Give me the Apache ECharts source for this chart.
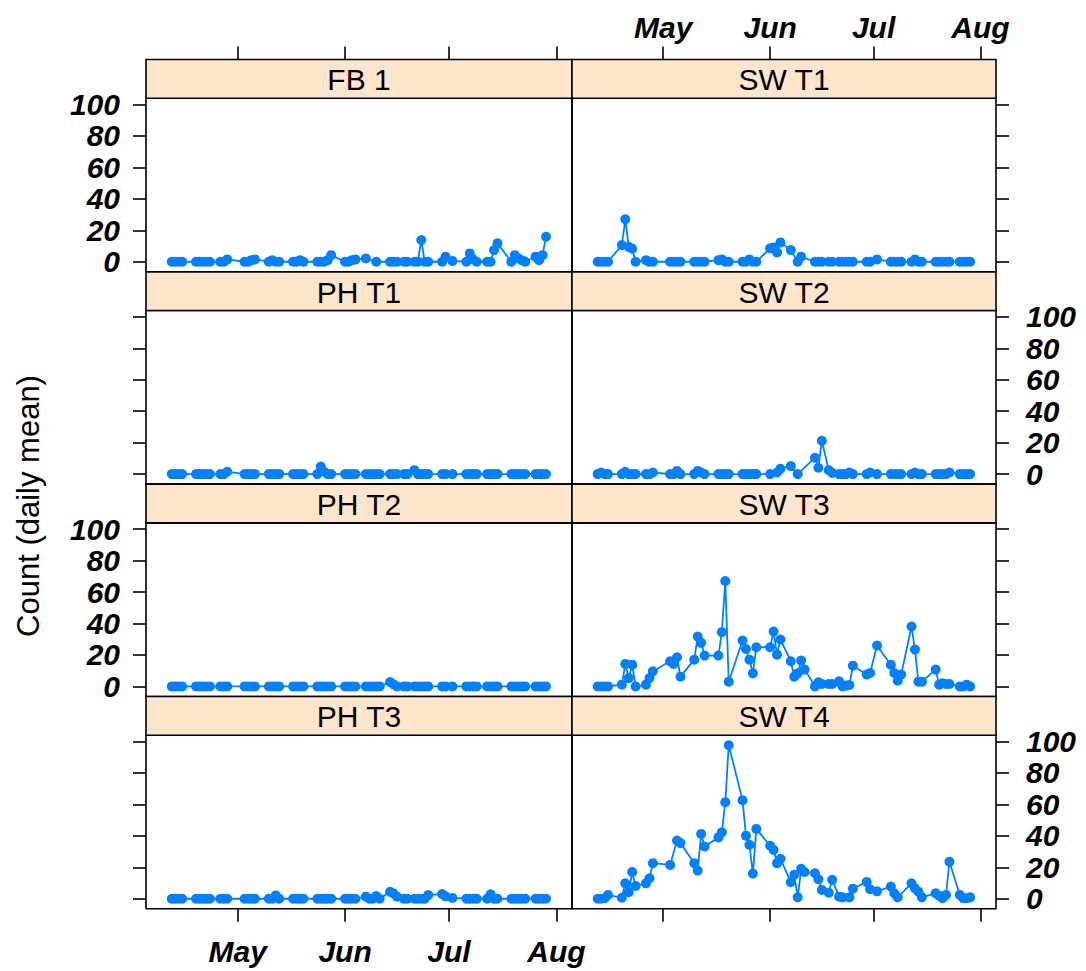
<!DOCTYPE html>
<html>
<head>
<meta charset="utf-8">
<script src="https://cdn.jsdelivr.net/npm/echarts@6/dist/echarts.min.js"></script>
<style>
  html, body { margin: 0; padding: 0; background: #ffffff; }
  #chart { width: 1086px; height: 971px; }
</style>
</head>
<body>
<div id="chart"></div>
<script>
// Daily mean counts per sampling site, one value per sampling date (null = no sample)
const YEAR = 2010;
const sampleDates = [
  '04-12','04-13','04-14','04-15',
  '04-19','04-20','04-21','04-22','04-23',
  '04-26','04-27','04-28',
  '05-03','05-04','05-05','05-06',
  '05-10','05-11','05-12','05-13',
  '05-17','05-18','05-19','05-20',
  '05-24','05-25','05-26','05-27','05-28',
  '06-01','06-02','06-03','06-04',
  '06-07','06-08','06-09','06-10','06-11',
  '06-14','06-15','06-16',
  '06-18','06-19',
  '06-21','06-22','06-23','06-24','06-25',
  '06-29','06-30',
  '07-02',
  '07-06','07-07','07-08','07-09',
  '07-12','07-13','07-14','07-15',
  '07-19','07-20','07-21','07-22','07-23',
  '07-26','07-27','07-28','07-29'
];

const siteNames = ['FB 1', 'SW T1', 'PH T1', 'SW T2', 'PH T2', 'SW T3', 'PH T3', 'SW T4'];

const fb1 = [0,0,0,0, 0,0,0,0,0, 0,0,1.5, 0,0,1,1.5, 0,1,0,0, 0,0,1,0, 0,0,0,1,4.2,
  0,0,1,1.5, 2.1,null,null,0,null, 0,0,0, 0,0, 0,0,13.8,0,0, 0,3.2, 0.5,
  0,5.3,1.5,0, 0,0,7.4,11.7, 0,4.2,2.1,1,0, 3.2,1,4.2,15.9];

const swT1 = [0,0,0,0, 10.6,27,9.5,8.3,0, 1,0,0, 0,0,0,0, 0,0,0,0, 1,1.5,0,0, 0,0,1.5,0,0,
  8.5,9.1,5.9,12.3, 7.4,null,0,3.2,null, 0,0,0, 0,0, 0,0,0,0,0, 0,0, 1.5,
  0,0,0,0, 0,1.5,0,0, 0,0,0,0,0, 0,0,0,0];

const phT1 = [0,0,0,0, 0,0,0,0,0, 0,0,1.5, 0,0,0,0, 0,0,0,0, 0,0,0,0, 0,4.8,1.5,0,0,
  0,0,0,0, 0,0,0,0,0, 0,0,0, 0,0, 2.5,0,0,0,0, 0,0, 0,
  0,0,0,0, 0,0,0,0, 0,0,0,0,0, 0,0,0,0];

const swT2 = [0,1,0,0, 0,1.5,0,0,0, 0,0,1, 0,0,2,0, 0,2,1,0, 0,0,0,0, 0,0,0,0,0,
  0,null,1,3.4, 5.1,null,0,null,null, 10.4,4,21.2, 2.5,0.8, 0,0,0,1,0, 0,1, 0,
  0,0,0,0, 0,1,0,0, 0,0,0,0,1, 0,0,0,0];

const phT2 = [0,0,0,0, 0,0,0,0,0, 0,0,0, 0,0,0,0, 0,0,0,0, 0,0,0,0, 0,0,0,0,0,
  0,0,0,0, 0,0,0,0,0, 2.8,1.3,0, 0,0, 0,0,0,0,0, 0,0, 0,
  0,0,0,0, 0,0,0,0, 0,0,0,0,0, 0,0,0,0];

const swT3 = [0,0,0,0, 1.1,14.3,5.3,13.8,0, 1.1,5.3,9.6, 16,14.3,18.5,6.2, 17,31.7,27.7,19.6,
  19.6,34.5,67,3, 29.2,23.8,17,8.3,24.9, 24.9,34.9,20.2,29.8, 16,6.2,8.3,16.4,10.7,
  0,2.6,1.5, 1.5,1.5, 3.2,0,0.5,0.9,13.2, 7.5,8.5, 26,
  13.8,8.5,3.6,7.5, 38.1,23.4,3,3, 10.7,1.1,2,1.5,1.5, 0,0,1.1,0];

const phT3 = [0,0,0,0, 0,0,0,0,0, 0,0,0, 0,0,0,0, 0,0,2.1,0, 0,0,0,0, 0,0,0,0,0,
  0,0,0,0, 1.3,0,0,1.7,0, 4.4,3.4,1.3, 0,0, 0,0,0,0,2.3, 3,1.5, 0.5,
  0,0,0,0, 0,2.8,0,0, 0,0,0,0,0, 0,0,0,0];

const swT4 = [0,0,0.3,2.4, 0.6,9.8,4.1,17,8.1, 9.8,13,22.6, 21.5,null,37,35.4, 22.6,17.9,41.2,33.2,
  39,42.2,61.4,97.6, 62.7,40.1,34.3,16,44.4, 33.7,31.1,22.6,25.4, 10.5,15.2,0.9,19,17,
  16.2,12.4,5.6, 3.8,12, 1.3,0.9,null,0.9,6.4, 10.7,6, 4.7,
  7.7,3.5,0.9,null, 9.8,6.6,4.5,0.9, 3.5,1.9,0.3,2.4,23.5, 2.4,0.3,0.3,0.9];

const siteValues = [fb1, swT1, phT1, swT2, phT2, swT3, phT3, swT4];

const monthLabels = ['May', 'Jun', 'Jul', 'Aug'];
const monthStarts = ['05-01', '06-01', '07-01', '08-01'];
const yTicks = [0, 20, 40, 60, 80, 100];

// Dates are placed on a day scale counted from 1 May
function dayOffset(md) {
  const [m, d] = md.split('-').map(Number);
  return Math.round((Date.UTC(YEAR, m - 1, d) - Date.UTC(YEAR, 4, 1)) / 86400000);
}
const sampleDays = sampleDates.map(dayOffset);
const monthDays = monthStarts.map(dayOffset);

// Panel layout: 2 columns x 4 rows, each panel with a strip on top
const FONT = '"Liberation Sans", Arial, Helvetica, sans-serif';
const colLeft = [146, 572];
const colWidth = [426, 424];
const rowPitch = 212.33;
const stripTop0 = 59.5;
const stripH = 38.7;
const panelH = 173.6;
const X_MIN = -26.45, X_MAX = 96.5;
const Y_MIN = -6.4, Y_MAX = 104;

const tickFont = { fontSize: 30, fontWeight: 'bold', fontStyle: 'italic', color: '#000', fontFamily: FONT };

const grids = [], xAxes = [], yAxes = [], series = [], graphics = [];

siteNames.forEach((name, i) => {
  const r = Math.floor(i / 2), c = i % 2;
  const stripTop = stripTop0 + r * rowPitch;
  const panelTop = stripTop + stripH;
  grids.push({
    left: colLeft[c], top: panelTop, width: colWidth[c], height: panelH,
    show: true, borderColor: '#000', borderWidth: 1.6, backgroundColor: 'transparent',
    containLabel: false
  });

  // the top axis sits above the strip, the bottom axis under the last panel
  const xShow = (r === 0 || r === 3);
  const xLabel = (r === 0 && c === 1) || (r === 3 && c === 0);
  xAxes.push({
    type: 'value', gridIndex: i, min: X_MIN, max: X_MAX,
    show: xShow, position: r === 0 ? 'top' : 'bottom',
    offset: r === 0 ? stripH : 0,
    axisLine: { show: false, onZero: false },
    splitLine: { show: false },
    axisTick: { show: true, inside: false, length: 13, customValues: monthDays,
      lineStyle: { color: '#000', width: 1.6 } },
    axisLabel: Object.assign({
      show: xLabel, customValues: monthDays, margin: r === 0 ? 17 : 28,
      formatter: v => monthLabels[monthDays.indexOf(v)] || ''
    }, tickFont)
  });

  const yLabel = (c === 0 && r % 2 === 0) || (c === 1 && r % 2 === 1);
  yAxes.push({
    type: 'value', gridIndex: i, min: Y_MIN, max: Y_MAX,
    position: c === 0 ? 'left' : 'right',
    axisLine: { show: false, onZero: false },
    splitLine: { show: false },
    axisTick: { show: true, inside: false, length: 13, customValues: yTicks,
      lineStyle: { color: '#000', width: 1.6 } },
    axisLabel: Object.assign({
      show: yLabel, customValues: yTicks, margin: c === 0 ? 26 : 30
    }, tickFont)
  });

  const data = [];
  siteValues[i].forEach((v, k) => { if (v !== null) data.push([sampleDays[k], v]); });
  series.push({
    type: 'line', name: name, xAxisIndex: i, yAxisIndex: i, data: data,
    symbol: 'circle', symbolSize: 10, showAllSymbol: true,
    itemStyle: { color: '#0080ff' },
    lineStyle: { color: '#0080ff', width: 1.8 },
    emphasis: { disabled: true }, silent: true
  });

  // strip with the site name
  graphics.push({
    type: 'rect', z: 10,
    shape: { x: colLeft[c], y: stripTop, width: colWidth[c], height: stripH },
    style: { fill: '#FFE5CC', stroke: '#000', lineWidth: 1.6 }
  });
  graphics.push({
    type: 'text', z: 11,
    x: colLeft[c] + colWidth[c] / 2, y: stripTop + stripH / 2 + 1,
    style: { text: name, fill: '#000', fontSize: 30, fontFamily: FONT,
      align: 'center', verticalAlign: 'middle', textAlign: 'center', textVerticalAlign: 'middle' }
  });
});

graphics.push({
  type: 'text', z: 11, x: 28, y: 506, rotation: Math.PI / 2,
  style: { text: 'Count (daily mean)', fill: '#000', fontSize: 31, fontFamily: FONT,
    align: 'center', verticalAlign: 'middle', textAlign: 'center', textVerticalAlign: 'middle' }
});

const chart = echarts.init(document.getElementById('chart'), null, { renderer: 'svg' });
chart.setOption({
  animation: false,
  backgroundColor: '#ffffff',
  grid: grids,
  xAxis: xAxes,
  yAxis: yAxes,
  series: series,
  graphic: graphics
});
</script>
</body>
</html>
